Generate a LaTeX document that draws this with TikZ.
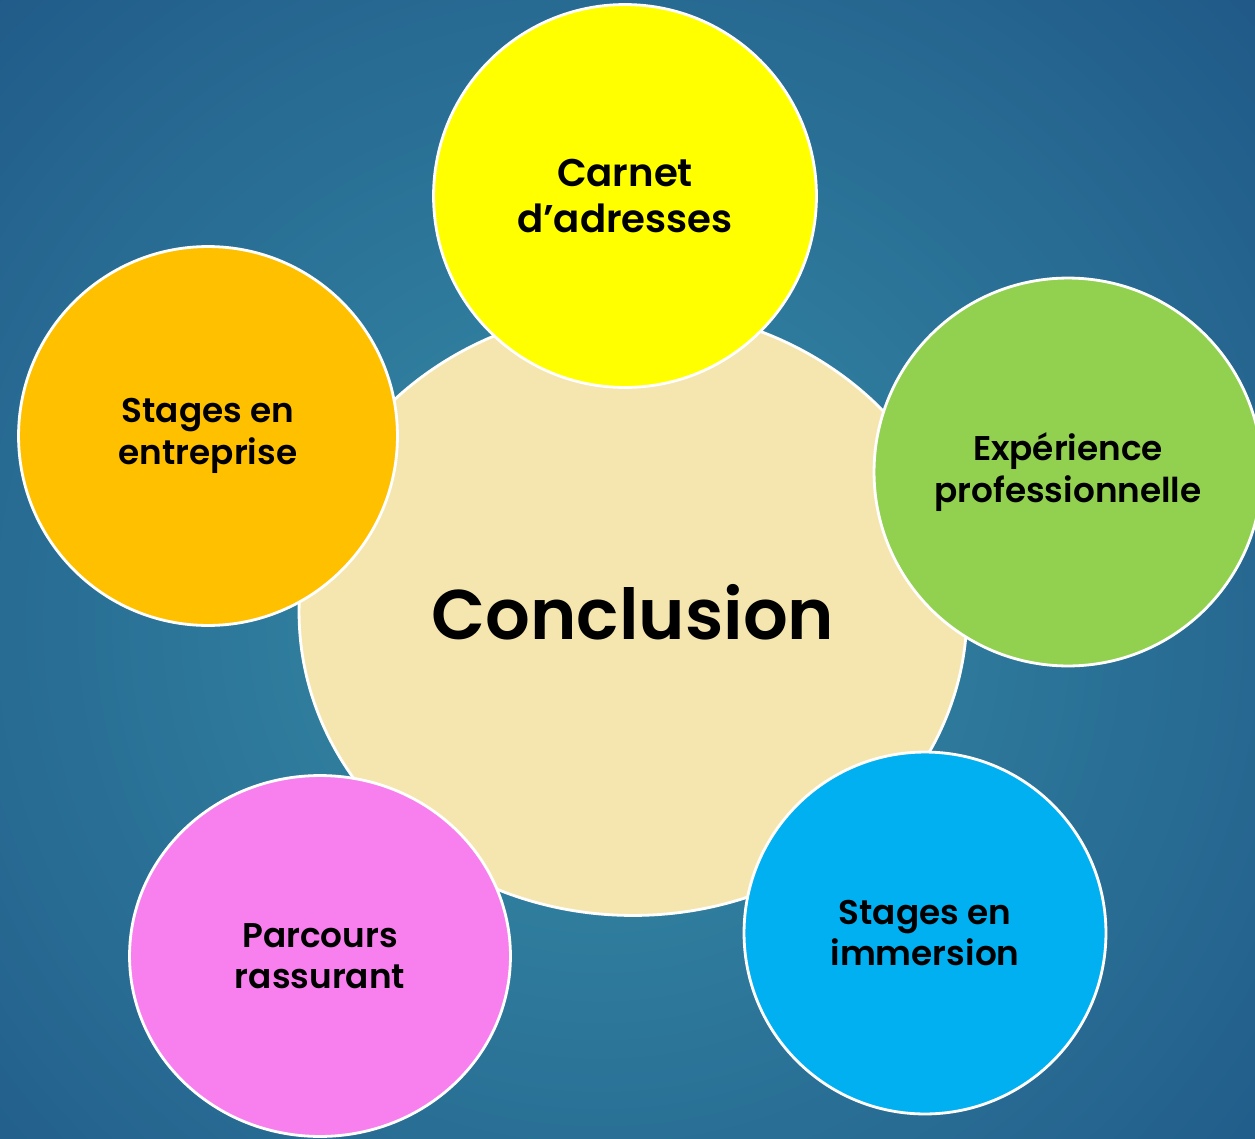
\documentclass[tikz,border=0pt]{standalone}
\usepackage{fontspec}
\setmainfont{Poppins}[BoldFont={Poppins SemiBold}]
\usetikzlibrary{shapes.geometric}

\definecolor{bgdark}{RGB}{31,86,134}
\definecolor{bglight}{RGB}{54,142,168}
\definecolor{hubfill}{RGB}{245,230,176}
\definecolor{cyellow}{RGB}{255,255,0}
\definecolor{corange}{RGB}{255,192,0}
\definecolor{cgreen}{RGB}{146,208,80}
\definecolor{cblue}{RGB}{0,176,240}
\definecolor{cpink}{RGB}{247,128,238}

\begin{document}
\begin{tikzpicture}[x=0.02cm, y=-0.02cm,
    bubble/.style={circle, draw=white, line width=1.6pt, inner sep=0pt,
      align=center, text=black, font=\fontsize{19.5}{23.5}\selectfont\bfseries},
    hub/.style={ellipse, draw=white, line width=1.6pt, inner sep=0pt,
      fill=hubfill, text=black, font=\fontsize{40}{46}\selectfont\bfseries}]

    % background
    \begin{scope}
      \clip (0,0) rectangle (1255,1139);
      \fill[inner color=bglight, outer color=bgdark] (600,620) circle (960);
    \end{scope}
    \useasboundingbox (0,0) rectangle (1255,1139);

    % centre
    \node[hub, minimum width=13.36cm, minimum height=12.14cm] (concl) at (633,612) {Conclusion};

    % satellites
    \node[bubble, fill=cyellow, minimum size=7.66cm,
      font=\fontsize{22}{26}\selectfont\bfseries] (carnet) at (625,196) {Carnet\\d’adresses};
    \node[bubble, fill=corange, minimum size=7.58cm] (entreprise) at (208,436) {Stages en\\entreprise};
    \node[bubble, fill=cgreen, minimum size=7.76cm] (experience) at (1068,472) {Expérience\\professionnelle};
    \node[bubble, fill=cblue, minimum size=7.24cm] (immersion) at (925,933) {Stages en\\immersion};
    \node[bubble, ellipse, fill=cpink, minimum width=7.62cm, minimum height=7.22cm] (parcours) at (320,956) {Parcours\\rassurant};

\end{tikzpicture}
\end{document}
